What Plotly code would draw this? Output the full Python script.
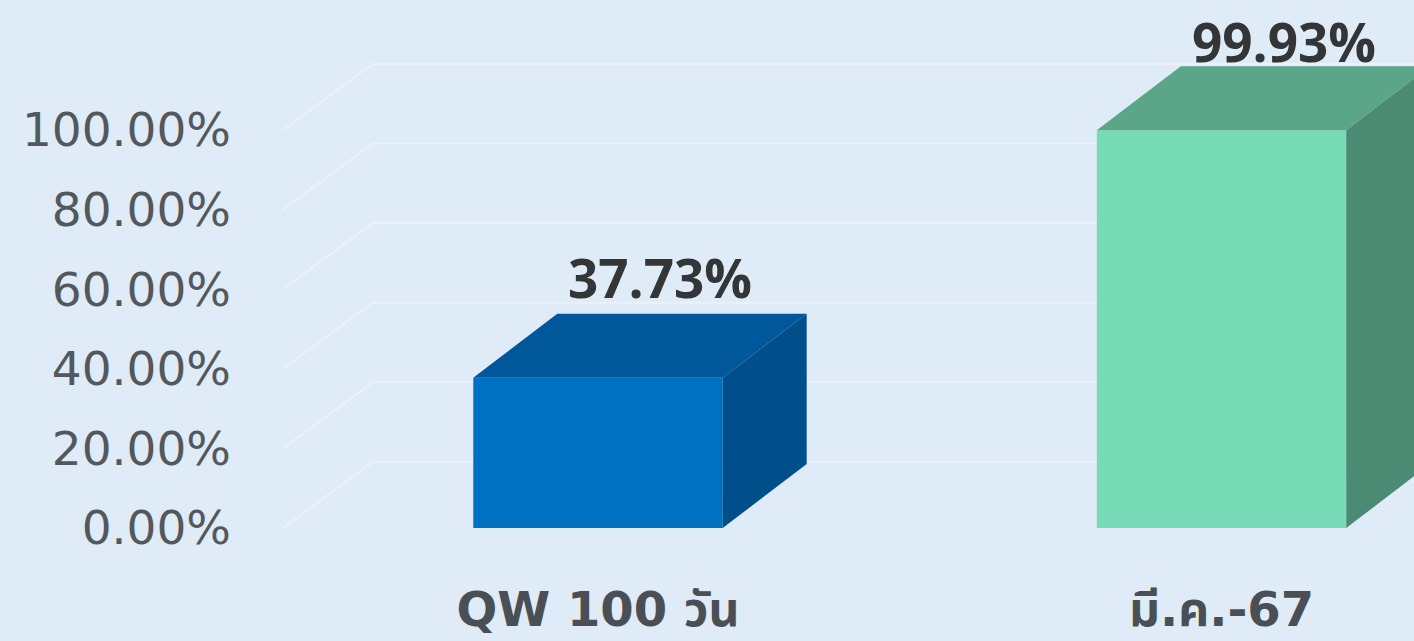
import plotly.graph_objects as go

# ---- data ----
categories = ["QW 100 วัน", "มี.ค.-67"]
values = [37.73, 99.93]
value_labels = ["37.73%", "99.93%"]
tick_values = [0, 20, 40, 60, 80, 100]
tick_labels = ["0.00%", "20.00%", "40.00%", "60.00%", "80.00%", "100.00%"]

# ---- style ----
front_colors = ["#0070c0", "#77dbb8"]
top_colors = ["#00579a", "#5ba688"]
side_colors = ["#004e8a", "#4b8a73"]
bg = "#dfebf6"
bar_w = 0.40
depth_x = 0.1347   # perspective depth in x-axis units
depth_y = 16.1     # perspective depth in y-axis units
grid_dx = 0.144
grid_dy = 16.6
x_range = [-0.5052, 1.3087]
y_range = [-8.04, 132.66]
label_yshift = [-2, -14]

fig = go.Figure()

# perspective gridlines
for v in tick_values:
    fig.add_trace(go.Scatter(
        x=[x_range[0], x_range[0] + grid_dx, x_range[1]],
        y=[v, v + grid_dy, v + grid_dy],
        mode="lines", line=dict(color="rgba(255,255,255,0.35)", width=2),
        hoverinfo="skip", showlegend=False, cliponaxis=True))

# 3D bars
for i, v in enumerate(values):
    x0, x1 = i - bar_w / 2, i + bar_w / 2
    # front face
    fig.add_trace(go.Scatter(
        x=[x0, x1, x1, x0, x0], y=[0, 0, v, v, 0],
        fill="toself", fillcolor=front_colors[i], mode="lines",
        line=dict(width=0, color=front_colors[i]),
        hoverinfo="skip", showlegend=False))
    # top face
    fig.add_trace(go.Scatter(
        x=[x0, x1, x1 + depth_x, x0 + depth_x, x0],
        y=[v, v, v + depth_y, v + depth_y, v],
        fill="toself", fillcolor=top_colors[i], mode="lines",
        line=dict(width=0, color=top_colors[i]),
        hoverinfo="skip", showlegend=False))
    # side face
    fig.add_trace(go.Scatter(
        x=[x1, x1 + depth_x, x1 + depth_x, x1, x1],
        y=[0, depth_y, v + depth_y, v, 0],
        fill="toself", fillcolor=side_colors[i], mode="lines",
        line=dict(width=0, color=side_colors[i]),
        hoverinfo="skip", showlegend=False))
    fig.add_annotation(
        x=i + 0.1, y=v + depth_y, text=value_labels[i],
        showarrow=False, yanchor="bottom", xanchor="center",
        yshift=label_yshift[i],
        font=dict(family="Open Sans", size=53, color="#333537", weight="bold"))

fig.update_layout(
    width=1414, height=641,
    margin=dict(l=283, r=0, t=0, b=81),
    paper_bgcolor=bg, plot_bgcolor=bg,
    showlegend=False,
    xaxis=dict(range=x_range, tickvals=[0, 1], ticktext=categories,
               showgrid=False, zeroline=False, showline=False, ticks="",
               ticklabelstandoff=17,
               tickfont=dict(family="DejaVu Sans, Noto Sans Thai, sans-serif", size=48,
                             color="#4a4f55", weight="bold"),
               fixedrange=True),
    yaxis=dict(range=y_range, tickvals=tick_values, ticktext=tick_labels,
               showgrid=False, zeroline=False, showline=False, ticks="",
               ticklabelstandoff=51,
               tickfont=dict(family="DejaVu Sans", size=47, color="#53585d"),
               fixedrange=True),
)

fig.write_html("out.html", config={"displayModeBar": False},
               post_script="document.body.style.margin='0';document.body.style.overflow='hidden';")
